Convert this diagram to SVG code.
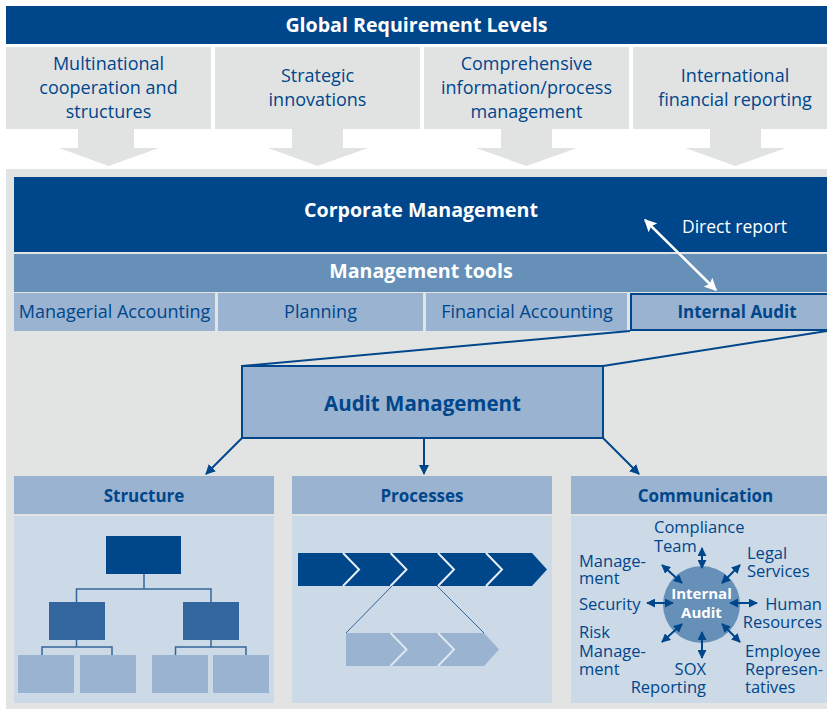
<svg xmlns="http://www.w3.org/2000/svg" width="827" height="709" viewBox="0 0 827 709">
<style>
text{font-family:"Open Sans","Noto Sans","DejaVu Sans",sans-serif;}
.hw{fill:#fff;font-weight:bold;font-size:19.6px;text-anchor:middle;}
.gt{fill:#00468b;font-size:18px;text-anchor:middle;}
.bt{fill:#00468b;font-weight:bold;font-size:17px;text-anchor:middle;}
.ct{fill:#00468b;font-size:16.5px;}
.dark{fill:#00468b;}
.mid{fill:#6690b8;}
.lite{fill:#99b3d1;}
.pale{fill:#ccd9e6;}
.gray{fill:#e1e3e3;}
.org{fill:none;stroke:#336699;stroke-width:1.5;}
.conn{fill:none;stroke:#00468b;stroke-width:2;}
</style>
<defs>
<marker id="ah" viewBox="0 0 10 10" refX="9" refY="5" markerWidth="5" markerHeight="5" orient="auto-start-reverse" markerUnits="strokeWidth"><path d="M0,0 L10,5 L0,10 z" fill="#00468b"/></marker>
<marker id="wh" viewBox="0 0 10 10" refX="9" refY="5" markerWidth="5.5" markerHeight="5" orient="auto-start-reverse" markerUnits="strokeWidth"><path d="M0,0 L10,5 L0,10 L2,5 z" fill="#fff"/></marker>
<marker id="sh" viewBox="0 0 10 10" refX="9" refY="5" markerWidth="4.5" markerHeight="4.5" orient="auto-start-reverse" markerUnits="strokeWidth"><path d="M0,0 L10,5 L0,10 z" fill="#00468b"/></marker>
</defs>
<rect width="827" height="709" fill="#fff"/>

<g id="global">
<rect x="6" y="6" width="821" height="38" class="dark"/>
<text x="416.5" y="32" class="hw">Global Requirement Levels</text>
</g>
<g id="req1">
<rect x="6" y="47" width="205" height="82" class="gray"/>
<text class="gt"><tspan x="108.5" y="70">Multinational</tspan><tspan x="108.5" y="94">cooperation and</tspan><tspan x="108.5" y="118">structures</tspan></text>
<polygon points="78,129 134,129 134,148 159,148 108.5,166 59,148 78,148" class="gray"/>
</g>
<g id="req2">
<rect x="215" y="47" width="205" height="82" class="gray"/>
<text class="gt"><tspan x="317.5" y="82">Strategic</tspan><tspan x="317.5" y="106">innovations</tspan></text>
<polygon points="292,129 343,129 343,148 368,148 317.5,166 268,148 292,148" class="gray"/>
</g>
<g id="req3">
<rect x="424" y="47" width="205" height="82" class="gray"/>
<text class="gt"><tspan x="526.5" y="70">Comprehensive</tspan><tspan x="526.5" y="94">information/process</tspan><tspan x="526.5" y="118">management</tspan></text>
<polygon points="501,129 552,129 552,148 577,148 526.5,166 476,148 501,148" class="gray"/>
</g>
<g id="req4">
<rect x="633" y="47" width="194" height="82" class="gray"/>
<text class="gt"><tspan x="735" y="82">International</tspan><tspan x="735" y="106">financial reporting</tspan></text>
<polygon points="710,129 761,129 761,148 786,148 735.5,166 685,148 710,148" class="gray"/>
</g>

<rect x="6" y="169" width="821" height="540" fill="#e2e4e4"/>

<g id="corporate">
<rect x="14" y="177" width="813" height="75" class="dark"/>
<text x="421" y="217" class="hw">Corporate Management</text>
<text x="682" y="233" fill="#fff" font-size="17.5px">Direct report</text>
</g>
<g id="tools">
<rect x="14" y="254" width="813" height="38" class="mid"/>
<text x="421" y="278" class="hw">Management tools</text>
</g>
<g id="managerial">
<rect x="14" y="293" width="201" height="38" class="lite"/>
<text x="114.5" y="318" class="gt">Managerial Accounting</text>
</g>
<g id="planning">
<rect x="218" y="293" width="205" height="38" class="lite"/>
<text x="320.5" y="318" class="gt">Planning</text>
</g>
<g id="financial">
<rect x="426" y="293" width="201" height="38" class="lite"/>
<text x="527" y="318" class="gt">Financial Accounting</text>
</g>
<g id="internal">
<rect x="631" y="294" width="198" height="36" class="lite" stroke="#00468b" stroke-width="2"/>
<text x="737" y="318" class="bt">Internal Audit</text>
</g>

<g id="audit">
<rect x="242" y="366" width="361" height="72" class="lite" stroke="#00468b" stroke-width="2"/>
<text x="422.5" y="411" class="bt" style="font-size:20.5px">Audit Management</text>
</g>

<g id="connectors">
<line x1="645" y1="220" x2="716" y2="290" stroke="#fff" stroke-width="2.5" marker-start="url(#wh)" marker-end="url(#wh)"/>
<line x1="630" y1="331" x2="242" y2="366" class="conn"/>
<line x1="827" y1="331" x2="603" y2="366" class="conn"/>
<line x1="242" y1="438" x2="206" y2="474" class="conn" marker-end="url(#ah)"/>
<line x1="424" y1="438" x2="424" y2="474" class="conn" marker-end="url(#ah)"/>
<line x1="603" y1="438" x2="639" y2="474" class="conn" marker-end="url(#ah)"/>
</g>

<g id="structure">
<rect x="14" y="476" width="260" height="38" class="lite"/>
<text x="144" y="502" class="bt">Structure</text>
<rect x="14" y="516" width="260" height="187" class="pale"/>
<rect x="106" y="536" width="75" height="38" class="dark"/>
<path d="M144,574 V589 M76.5,602 V589 H211 V602" class="org"/>
<rect x="49" y="602" width="56" height="38" fill="#33669f"/>
<rect x="183" y="602" width="56" height="38" fill="#33669f"/>
<path d="M76.5,640 V647 M42,655 V647 H112 V655 M211,640 V647 M175.5,655 V647 H246 V655" class="org"/>
<rect x="18" y="655" width="56" height="38" class="lite"/>
<rect x="80" y="655" width="56" height="38" class="lite"/>
<rect x="152" y="655" width="56" height="38" class="lite"/>
<rect x="213" y="655" width="56" height="38" class="lite"/>
</g>

<g id="processes">
<rect x="292" y="476" width="260" height="38" class="lite"/>
<text x="422" y="502" class="bt">Processes</text>
<rect x="292" y="516" width="260" height="187" class="pale"/>
<polygon points="298,553 532,553 547,569.5 532,586 298,586" class="dark"/>
<path d="M343,553 L359,569.5 L343,586 M390.5,553 L406.5,569.5 L390.5,586 M438,553 L454,569.5 L438,586 M486,553 L502,569.5 L486,586" fill="none" stroke="#e8eef5" stroke-width="2"/>
<line x1="392" y1="586" x2="346" y2="633" stroke="#336699" stroke-width="1"/>
<line x1="437" y1="586" x2="484" y2="633" stroke="#336699" stroke-width="1"/>
<polygon points="346,633 484,633 499,649.5 484,666 346,666" class="lite"/>
<path d="M390.5,633 L406.5,649.5 L390.5,666 M438,633 L454,649.5 L438,666" fill="none" stroke="#dfe7f0" stroke-width="2"/>
</g>

<g id="communication">
<rect x="571" y="476" width="256" height="38" class="lite"/>
<text x="705.5" y="502" class="bt">Communication</text>
<rect x="571" y="516" width="256" height="187" class="pale"/>
<circle cx="701.5" cy="604.5" r="38.5" class="mid"/>
<text x="701.5" y="599" fill="#fff" font-weight="bold" font-size="15px" text-anchor="middle">Internal</text>
<text x="701.5" y="618" fill="#fff" font-weight="bold" font-size="15px" text-anchor="middle">Audit</text>
<g stroke="#00468b" stroke-width="2" fill="none">
<line x1="702" y1="548" x2="702" y2="568" marker-start="url(#sh)" marker-end="url(#sh)"/>
<line x1="702" y1="658" x2="702" y2="632" marker-start="url(#sh)" marker-end="url(#sh)"/>
<line x1="647" y1="603" x2="673" y2="603" marker-start="url(#sh)" marker-end="url(#sh)"/>
<line x1="757" y1="603" x2="730" y2="603" marker-start="url(#sh)" marker-end="url(#sh)"/>
<line x1="662" y1="565" x2="682" y2="583" marker-start="url(#sh)" marker-end="url(#sh)"/>
<line x1="740" y1="565" x2="722" y2="583" marker-start="url(#sh)" marker-end="url(#sh)"/>
<line x1="662" y1="642" x2="682" y2="624" marker-start="url(#sh)" marker-end="url(#sh)"/>
<line x1="740" y1="642" x2="722" y2="624" marker-start="url(#sh)" marker-end="url(#sh)"/>
</g>
<text class="ct"><tspan x="654" y="533">Compliance</tspan><tspan x="654" y="552">Team</tspan></text>
<text class="ct"><tspan x="747" y="559">Legal</tspan><tspan x="747" y="577">Services</tspan></text>
<text class="ct"><tspan x="579" y="567">Manage-</tspan><tspan x="579" y="584">ment</tspan></text>
<text class="ct" x="579" y="610">Security</text>
<text class="ct" text-anchor="end"><tspan x="822" y="610">Human</tspan><tspan x="822" y="628">Resources</tspan></text>
<text class="ct"><tspan x="579" y="638">Risk</tspan><tspan x="579" y="657">Manage-</tspan><tspan x="579" y="675">ment</tspan></text>
<text class="ct" text-anchor="end"><tspan x="706" y="675">SOX</tspan><tspan x="706" y="693">Reporting</tspan></text>
<text class="ct"><tspan x="745" y="657">Employee</tspan><tspan x="745" y="675">Represen-</tspan><tspan x="745" y="693">tatives</tspan></text>
</g>
</svg>
